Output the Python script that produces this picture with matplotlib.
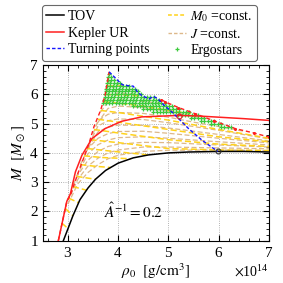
import numpy as np
import matplotlib
matplotlib.use("Agg")
import matplotlib.pyplot as plt
from matplotlib.lines import Line2D
from matplotlib.ticker import MultipleLocator, ScalarFormatter

plt.rcParams['font.family'] = ['Liberation Serif', 'DejaVu Serif']
plt.rcParams['mathtext.fontset'] = 'stix'

SCALE = 1e14  # rho values below are in units of 1e14 g/cm^3

# TOV sequence
tov_rho = [2.91, 3.0, 3.1, 3.24, 3.4, 3.55, 3.75, 4.0, 4.3, 4.6, 5.0, 5.4, 6.0, 6.5, 7.0]
tov_M = [1.0, 1.4, 1.85, 2.4, 2.8, 3.1, 3.4, 3.65, 3.83, 3.93, 4.0, 4.03, 4.05, 4.05, 4.03]

# Kepler UR (solid)
kep_rho = [2.81, 2.98, 3.05, 3.15, 3.28, 3.48, 3.74, 4.07, 4.47, 5.2, 5.6, 6.0, 6.5, 7.0]
kep_M = [1.0, 2.35, 2.6, 3.35, 3.92, 4.49, 4.83, 5.08, 5.23, 5.28, 5.26, 5.22, 5.17, 5.11]

# outer boundary (dashed red): left branch and right branch
bnd_left_rho = [2.81, 2.98, 3.05, 3.21, 3.41, 3.52, 3.65, 3.74, 3.82]
bnd_left_M = [1.0, 2.35, 2.55, 3.35, 4.26, 4.9, 5.45, 5.97, 6.77]
bnd_right_rho = [4.86, 4.94, 5.2, 5.53, 5.9, 6.33, 6.7, 7.0]
bnd_right_M = [5.82, 5.74, 5.55, 5.34, 5.1, 4.83, 4.68, 4.54]

# turning points
turn_rho = [3.82, 4.08, 4.18, 4.30, 4.40, 4.50, 4.62, 4.70, 4.78, 4.90, 5.07, 5.40, 5.67, 5.98]
turn_M = [6.77, 6.33, 6.30, 6.28, 6.05, 5.93, 5.85, 5.93, 5.86, 5.65, 5.40, 4.83, 4.43, 4.05]

# J = const sequences
J_curves = [
    ([3.0, 3.2, 3.4, 3.6, 3.8, 4.0, 4.5, 5.0, 6.0, 7.0], [2.25, 2.95, 3.33, 3.6, 3.8, 3.92, 4.05, 4.09, 4.1, 4.08]),
    ([3.05, 3.2, 3.4, 3.6, 3.8, 4.0, 4.5, 5.0, 6.0, 7.0], [2.55, 3.1, 3.55, 3.82, 4.0, 4.1, 4.2, 4.2, 4.17, 4.14]),
    ([3.1, 3.2, 3.4, 3.6, 3.8, 4.0, 4.5, 5.0, 6.0, 7.0], [2.9, 3.25, 3.75, 4.05, 4.22, 4.3, 4.36, 4.35, 4.27, 4.2]),
    ([3.17, 3.4, 3.6, 3.8, 4.0, 4.5, 5.0, 6.0, 7.0], [3.2, 3.97, 4.28, 4.44, 4.52, 4.55, 4.5, 4.38, 4.27]),
    ([3.25, 3.4, 3.6, 3.8, 4.0, 4.5, 5.0, 6.0, 7.0], [3.6, 4.15, 4.5, 4.66, 4.73, 4.74, 4.67, 4.5, 4.34]),
    ([3.33, 3.6, 3.8, 4.0, 4.5, 5.0, 6.0, 7.0], [3.95, 4.72, 4.88, 4.95, 4.94, 4.85, 4.63, 4.41]),
    ([3.42, 3.6, 3.8, 4.0, 4.5, 5.0, 6.0, 7.0], [4.3, 4.92, 5.1, 5.16, 5.14, 5.03, 4.77, 4.48]),
    ([3.5, 3.6, 3.8, 4.0, 4.5, 5.0, 5.5, 6.0, 6.5], [4.65, 5.1, 5.32, 5.38, 5.35, 5.22, 5.05, 4.9, 4.74]),
    ([3.58, 3.8, 4.0, 4.5, 5.0, 5.5, 5.8], [5.0, 5.52, 5.6, 5.55, 5.42, 5.25, 5.12]),
    ([3.65, 3.8, 4.0, 4.5, 4.9], [5.4, 5.75, 5.82, 5.76, 5.68]),
    ([3.7, 3.8, 4.0, 4.4, 4.5], [5.75, 5.97, 6.05, 6.0, 5.93]),
    ([3.75, 3.9, 4.1], [6.1, 6.25, 6.3]),
    ([3.78, 3.95], [6.4, 6.5]),
]

# M0 = const sequences
M0_curves = [
    ([2.88, 2.98], [1.6, 1.45]),
    ([2.95, 3.1], [2.1, 1.85]),
    ([3.02, 3.21], [2.45, 2.3]),
    ([3.1, 3.38], [2.85, 2.72]),
    ([3.17, 3.35, 3.55], [3.2, 3.15, 3.1]),
    ([3.25, 3.5, 3.85], [3.6, 3.55, 3.5]),
    ([3.32, 3.7, 4.25], [3.9, 3.84, 3.8]),
    ([3.38, 3.8, 4.6], [4.15, 4.07, 3.93]),
    ([3.45, 4.0, 5.0, 6.0, 7.0], [4.45, 4.35, 4.15, 4.1, 4.08]),
    ([3.52, 4.0, 5.0, 6.0, 7.0], [4.8, 4.68, 4.45, 4.3, 4.22]),
    ([3.6, 4.0, 5.0, 6.0, 7.0], [5.15, 5.05, 4.8, 4.55, 4.38]),
    ([3.65, 4.0, 5.0, 6.0, 7.0], [5.45, 5.38, 5.12, 4.8, 4.5]),
    ([3.7, 4.0, 4.5, 5.0, 5.55], [5.75, 5.7, 5.6, 5.45, 5.32]),
    ([3.74, 4.0, 4.45], [6.0, 5.98, 5.95]),
    ([3.77, 4.1], [6.3, 6.3]),
]

# ergostar rows: mass level, first and last rho of the row
ergo_M = [6.7, 6.6, 6.5, 6.4, 6.3, 6.2, 6.1, 6.0, 5.9, 5.8, 5.7, 5.6, 5.5, 5.4, 5.3, 5.2, 5.1, 5.0, 4.9]
ergo_start = [3.81, 3.80, 3.79, 3.78, 3.77, 3.76, 3.75, 3.74, 3.73, 3.71, 3.69, 4.30, 4.50, 4.70, 5.20, 5.45, 5.65, 5.85, 6.05]
ergo_end = [3.86, 3.92, 3.98, 4.04, 4.28, 4.35, 4.40, 4.46, 4.72, 4.82, 4.97, 5.12, 5.25, 5.45, 5.60, 5.75, 5.95, 6.10, 6.30]

fig = plt.figure(figsize=(2.83, 2.83), dpi=100)
ax = fig.add_axes([0.151, 0.1495, 0.7995, 0.6205])

s = SCALE
for r, m in J_curves:
    ax.plot(np.array(r) * s, m, '--', color='#DDB88A', lw=0.9, dashes=(4, 2))
for r, m in M0_curves:
    ax.plot(np.array(r) * s, m, '--', color='#FFD21A', lw=1.1, dashes=(4, 2))

ex, ey = [], []
for m, a, b in zip(ergo_M, ergo_start, ergo_end):
    xs = np.arange(a, b + 1e-6, 0.065)
    ex += list(xs)
    ey += [m] * len(xs)
ax.plot(np.array(ex) * s, ey, '+', color='#3CCB3C', ms=3.5, mew=0.9, ls='none')

ax.plot(np.array(tov_rho) * s, tov_M, '-', color='black', lw=1.1)
ax.plot(np.array(kep_rho) * s, kep_M, '-', color='#FF2020', lw=1.1)
ax.plot(np.array(bnd_left_rho) * s, bnd_left_M, '--', color='#FF2020', lw=1.0, dashes=(3, 2))
ax.plot(np.array(bnd_right_rho) * s, bnd_right_M, '--', color='#FF2020', lw=1.0, dashes=(3, 2),
        marker='o', ms=1.2, markevery=1)
ax.plot(np.array(turn_rho) * s, turn_M, '--', color='#1515FF', lw=1.0, dashes=(2.5, 1.5))
ax.plot([5.98 * s], [4.05], 'o', mfc='none', mec='#333333', ms=3.5, mew=0.8)
ax.plot([5.22 * s], [5.27], 'o', mfc='none', mec='#DD2020', ms=3.5, mew=0.8)

ax.text(4.3 * s, 2.0, r'$\hat{A}^{-1} = 0.2$', fontsize=11, ha='center', va='center')

ax.set_xlim(2.5 * s, 7.0 * s)
ax.set_ylim(1, 7)
ax.xaxis.set_major_locator(MultipleLocator(1 * s))
ax.xaxis.set_minor_locator(MultipleLocator(0.2 * s))
ax.yaxis.set_major_locator(MultipleLocator(1))
ax.yaxis.set_minor_locator(MultipleLocator(0.2))
fmt = ScalarFormatter(useMathText=True)
fmt.set_powerlimits((0, 0))
ax.xaxis.set_major_formatter(fmt)
ax.xaxis.get_offset_text().set_fontsize(10)
ax.tick_params(which='both', direction='in', top=True, right=True, labelsize=11)
ax.tick_params(which='major', length=4, width=0.8)
ax.tick_params(which='minor', length=2, width=0.6)
ax.grid(True, which='major', color='#999999', ls=':', lw=0.6)
ax.set_xlabel(r'$\rho_0\ \ [\mathrm{g/cm^3}]$', fontsize=11, labelpad=1)
ax.set_ylabel(r'$M\ \ [M_\odot]$', fontsize=11, labelpad=2)

handles = [
    Line2D([], [], color='black', lw=1.1),
    Line2D([], [], color='#FF2020', lw=1.1),
    Line2D([], [], color='#1515FF', lw=1.0, ls='--', dashes=(2.5, 1.5)),
    Line2D([], [], color='#FFD21A', lw=1.1, ls='--', dashes=(2.5, 1.5)),
    Line2D([], [], color='#DDB88A', lw=1.0, ls='--', dashes=(2.5, 1.5)),
    Line2D([], [], color='#3CCB3C', marker='+', ls='none', ms=3.5, mew=0.9),
]
labels = ['TOV', 'Kepler UR', 'Turning points', r'$M_0$ =const.', r'$J$ =const.', 'Ergostars']
leg = fig.legend(handles, labels, loc='upper left', bbox_to_anchor=(0.148, 0.982), ncol=2,
                 fontsize=10, handlelength=1.3, handletextpad=0.3, columnspacing=1.3,
                 labelspacing=0.25, borderpad=0.3, borderaxespad=0, frameon=True, fancybox=True)
leg.get_frame().set_edgecolor('#444444')
leg.get_frame().set_linewidth(0.8)

fig.savefig('out.png', dpi=100)
